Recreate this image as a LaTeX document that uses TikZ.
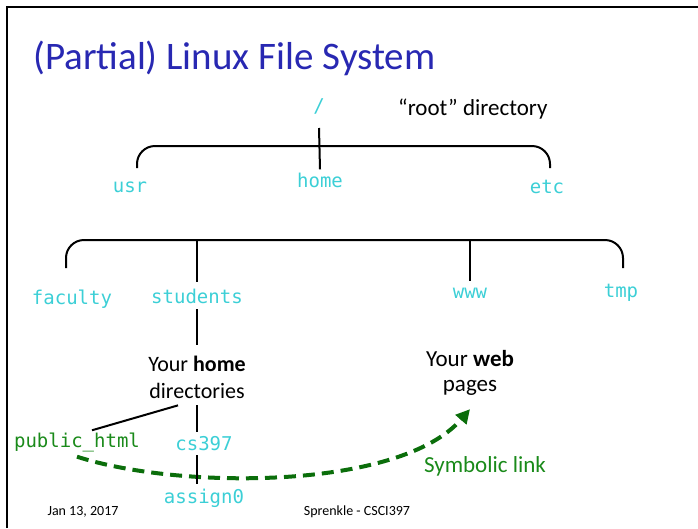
\documentclass[tikz,border=0pt]{standalone}
\usepackage{fontspec}
\setmainfont{Carlito}
\setmonofont{DejaVu Sans Mono}
\usetikzlibrary{arrows.meta}
\definecolor{TitleBlue}{HTML}{2828B2}
\definecolor{DirCyan}{HTML}{3CCFD6}
\definecolor{LinkGreen}{HTML}{1A8A1A}
\definecolor{ArrowGreen}{HTML}{0B6E0B}
\tikzset{
    % Text styles
    dirname/.style={
        inner sep=0pt,
        anchor=base,
        text=DirCyan,
        font=\ttfamily\fontsize{19}{19}\selectfont
    },
    linkname/.style={
        dirname,
        text=LinkGreen
    },
    note/.style={
        inner sep=0pt,
        anchor=base,
        align=center,
        font=\fontsize{23}{27}\selectfont
    },
    footer/.style={
        inner sep=0pt,
        anchor=base,
        font=\fontsize{14}{16}\selectfont
    },
    % Line styles
    treeline/.style={
        line width=2pt,
        draw=black
    },
    brace/.style={
        treeline,
        rounded corners=18pt
    },
    symlink/.style={
        -{Triangle[length=14pt,width=14pt]},
        line width=4pt,
        draw=ArrowGreen,
        dash pattern=on 12pt off 7pt
    }
}

\begin{document}
\begin{tikzpicture}[x=1pt, y=-1pt]
    \useasboundingbox (0,0) rectangle (698,528);
    % Slide frame
    \draw[line width=2pt] (7,528) -- (7,7) -- (698,7);

    % Title
    \node[inner sep=0pt, anchor=base west, text=TitleBlue, font=\fontsize{39}{39}\selectfont] (title) at (33,69) {(Partial) Linux File System};

    % Top level
    \node[dirname] (slash) at (319,112) {/};
    \node[note, anchor=base west] (rootnote) at (398,115) {“root” directory};
    \node[dirname] (usr) at (130,192) {usr};
    \node[dirname] (home) at (320,187) {home};
    \node[dirname] (etc) at (547,193) {etc};

    \draw[brace] (137,168) -- (137,146) -- (550,146) -- (550,168);
    \draw[treeline] (slash.south |- 0,128) -- ([yshift=3pt]home.north);

    % Under home
    \node[dirname] (faculty) at (72,304) {faculty};
    \node[dirname] (students) at (197,303) {students};
    \node[dirname] (www) at (470,298) {www};
    \node[dirname] (tmp) at (621,297) {tmp};

    \draw[brace] (66,268) -- (66,240) -- (623,240) -- (623,268);
    \draw[treeline] (197,240) -- ([yshift=6pt]students.north);
    \draw[treeline] (470,240) -- ([yshift=6pt]www.north);

    % Home and web directories
    \node[note, font=\fontsize{22}{27}\selectfont] (homedirs) at (197,398) {Your \textbf{home}\\directories};
    \node[note, font=\fontsize{23}{25}\selectfont] (webpages) at (470,391) {Your \textbf{web}\\pages};

    \node[linkname] (pubhtml) at (77,447) {public\_html};
    \node[dirname] (cs) at (204,450) {cs397};
    \node[dirname] (assign) at (204,503) {assign0};

    \draw[treeline] ([yshift=-6pt]students.south) -- ([yshift=10pt]homedirs.north);
    \draw[treeline] ([xshift=-19pt,yshift=-7pt]homedirs.south) -- ([xshift=15pt,yshift=2pt]pubhtml.north);
    \draw[treeline] ([xshift=0pt,yshift=-7pt]homedirs.south) -- ([xshift=-7pt,yshift=4pt]cs.north);

    % Symbolic link
    \draw[symlink] ([yshift=-5pt]pubhtml.south) .. controls (180,490) and (400,490) .. ([yshift=-14pt]webpages.south);
    \node[note, text=LinkGreen] (linklabel) at (485,472) {Symbolic link};
    \draw[treeline] ([xshift=-7pt,yshift=-5pt]cs.south) -- ([xshift=-7pt,yshift=4pt]assign.north);

    % Footer
    \node[footer] (date) at (83,515) {Jan 13, 2017};
    \node[footer] (author) at (357,515) {Sprenkle - CSCI397};
\end{tikzpicture}
\end{document}
